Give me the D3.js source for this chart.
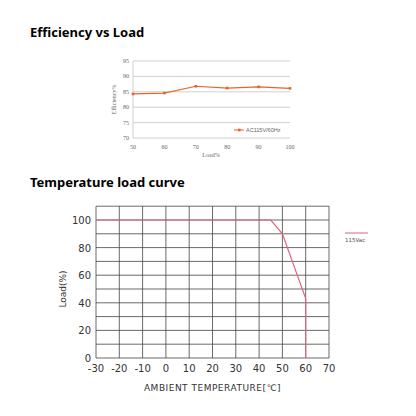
<!DOCTYPE html><html><head><script src="https://cdn.jsdelivr.net/npm/d3@7"></script>
<style>body{margin:0;background:#fff}</style></head><body><svg id="c" width="416" height="416"></svg><script>
const effLoad=[50,60,70,80,90,100];
const effVals=[84.3,84.6,86.8,86.2,86.6,86.1];
const effTicksY=[70,75,80,85,90,95];
const tempX=[-30,45,50,60,60];
const tempY=[100,100,90,43,0];
const tempTicksX=[-30,-20,-10,0,10,20,30,40,50,60,70];
const tempTicksY=[0,20,40,60,80,100];
const svg=d3.select("#c");
svg.append("text").attr("x",30).attr("y",37).attr("font-family","Noto Sans").attr("font-weight","bold").attr("font-size",13).text("Efficiency vs Load");
svg.append("text").attr("x",30).attr("y",187).attr("font-family","Noto Sans").attr("font-weight","bold").attr("font-size",13).text("Temperature load curve");
// top chart
const x1=d3.scaleLinear([50,100],[133,290]), y1=d3.scaleLinear([70,95],[138,61]);
const g1=svg.append("g").attr("font-family","Liberation Serif").attr("font-size",6).attr("fill","#666");
effTicksY.forEach(t=>{g1.append("line").attr("x1",x1(50)).attr("x2",x1(100)).attr("y1",y1(t)).attr("y2",y1(t)).attr("stroke","#bbb").attr("stroke-width",0.7);
g1.append("text").attr("x",x1(50)-4).attr("y",y1(t)+2).attr("text-anchor","end").text(t);});
g1.append("line").attr("x1",x1(50)).attr("x2",x1(50)).attr("y1",y1(95)).attr("y2",y1(70)).attr("stroke","#bbb").attr("stroke-width",0.7);
effLoad.forEach(t=>g1.append("text").attr("x",x1(t)).attr("y",149).attr("text-anchor","middle").text(t));
g1.append("text").attr("x",211).attr("y",157).attr("text-anchor","middle").text("Load%");
g1.append("text").attr("transform",`translate(116,${y1(82.5)}) rotate(-90)`).attr("text-anchor","middle").text("Efficiency%");
g1.append("path").attr("d",d3.line().x((d,i)=>x1(effLoad[i])).y(d=>y1(d))(effVals)).attr("fill","none").attr("stroke","#e8632b").attr("stroke-width",1.2);
effVals.forEach((d,i)=>g1.append("rect").attr("x",x1(effLoad[i])-1.3).attr("y",y1(d)-1.3).attr("width",2.6).attr("height",2.6).attr("fill","#e8632b"));
g1.append("line").attr("x1",234).attr("x2",244).attr("y1",130).attr("y2",130).attr("stroke","#e8632b");
g1.append("rect").attr("x",238).attr("y",128.7).attr("width",2.6).attr("height",2.6).attr("fill","#e8632b");
g1.append("text").attr("x",246).attr("y",132).attr("font-family","Liberation Sans").attr("font-size",5.5).text("AC115V/60Hz");
// bottom chart
const x2=d3.scaleLinear([-30,70],[96,329]), y2=d3.scaleLinear([0,100],[358,220]);
const g2=svg.append("g");
for(let v=-30;v<=70;v+=10) g2.append("line").attr("x1",x2(v)).attr("x2",x2(v)).attr("y1",y2(0)).attr("y2",y2(110)).attr("stroke","#444").attr("stroke-width",0.8);
for(let v=0;v<=110;v+=10) g2.append("line").attr("x1",x2(-30)).attr("x2",x2(70)).attr("y1",y2(v)).attr("y2",y2(v)).attr("stroke","#444").attr("stroke-width",0.8);
const tf=g2.append("g").attr("font-family","DejaVu Sans").attr("font-size",10).attr("fill","#333");
tempTicksY.forEach(t=>tf.append("text").attr("x",x2(-30)-5).attr("y",y2(t)+4).attr("text-anchor","end").text(t));
tempTicksX.forEach(t=>tf.append("text").attr("x",x2(t)).attr("y",372).attr("text-anchor","middle").text(t));
tf.append("text").attr("x",x2(20)).attr("y",391).attr("text-anchor","middle").attr("font-size",9).attr("letter-spacing",0.5).text("AMBIENT TEMPERATURE[℃]");
tf.append("text").attr("transform",`translate(66,${y2(50)}) rotate(-90)`).attr("text-anchor","middle").attr("font-size",9).text("Load(%)");
g2.append("path").attr("d",d3.line().x((d,i)=>x2(tempX[i])).y(d=>y2(d))(tempY)).attr("fill","none").attr("stroke","#d9667f").attr("stroke-width",1.2);
g2.append("line").attr("x1",345).attr("x2",368).attr("y1",233).attr("y2",233).attr("stroke","#d9667f").attr("stroke-width",1);
g2.append("text").attr("x",345).attr("y",242).attr("font-family","DejaVu Sans").attr("font-size",5.5).attr("fill","#555").text("115Vac");
</script></body></html>
